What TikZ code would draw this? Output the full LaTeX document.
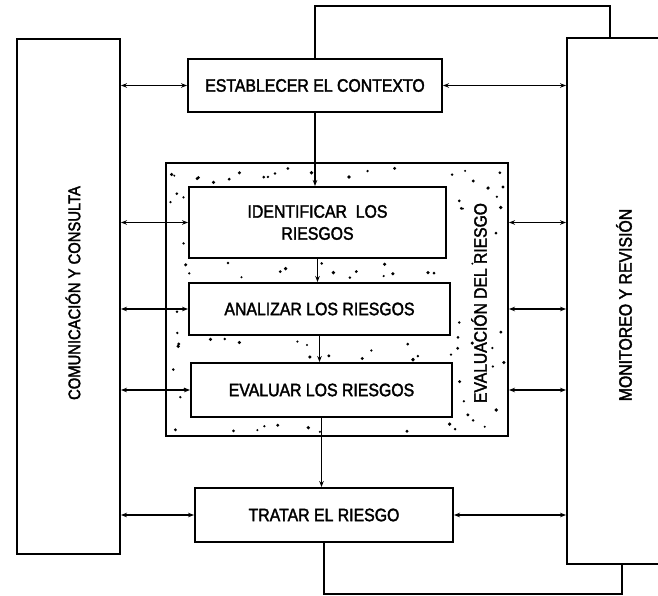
\documentclass[tikz,border=0pt]{standalone}
\usepackage{fontspec}
\setmainfont{Liberation Sans}
\newfontfamily\narrowfont[FakeStretch=0.88,FakeBold=2]{Liberation Sans}
\usetikzlibrary{arrows.meta,calc}
\newcommand\dotsrect[5]{%
  \foreach \i in {1,...,#5}{%
    \pgfmathsetmacro\dx{#1+rnd*(#3-#1)}%
    \pgfmathsetmacro\dy{#2+rnd*(#4-#2)}%
    \pgfmathsetmacro\dr{1.1+rnd*0.8}%
    \fill (\dx,\dy) circle (\dr pt);}}
\tikzset{
  stagebox/.style={draw, line width=1.9pt, fill=white, inner sep=0pt, align=center,
    font=\narrowfont\fontsize{18}{22}\selectfont},
  sidebox/.style={draw, line width=1.9pt, fill=white, inner sep=0pt},
  sidetext/.style={rotate=90, inner sep=0pt},
  dbl/.style={line width=1.3pt, {Stealth[length=6pt,width=4.5pt]}-{Stealth[length=6pt,width=4.5pt]}},
  onearr/.style={line width=1.3pt, -{Stealth[length=6pt,width=4.5pt]}},
  fb/.style={line width=2.8pt},
}
\begin{document}
\begin{tikzpicture}[x=1pt,y=-1pt]
\useasboundingbox (0,0) rectangle (658,596);
\clip (0,0) rectangle (658,596);
\fill[white] (0,0) rectangle (658,596);

% side boxes
\node[sidebox, minimum width=103pt, minimum height=515pt] (left) at (68.5,296.5) {};
\node[sidetext, font=\narrowfont\fontsize{16.8}{18}\selectfont] (lefttext) at (73,293) {COMUNICACIÓN Y CONSULTA};
\node[sidebox, minimum width=133pt, minimum height=526pt] (right) at (633.5,301) {};
\node[sidetext, font=\narrowfont\fontsize{18}{18}\selectfont] (righttext) at (624,305) {MONITOREO Y REVISIÓN};

% dotted evaluation box
\node[sidebox, minimum width=342pt, minimum height=273pt] (evalzone) at (337,299.5) {};
\pgfmathsetseed{4242}
\dotsrect{170}{168}{504}{184}{18}
\dotsrect{170}{263}{504}{280}{16}
\dotsrect{170}{339}{504}{360}{16}
\dotsrect{170}{420}{504}{432}{12}
\dotsrect{170}{186}{186}{418}{10}
\dotsrect{456}{186}{468}{418}{9}
\dotsrect{492}{186}{504}{418}{9}
\dotsrect{470}{168}{490}{196}{2}
\node[sidetext, font=\narrowfont\fontsize{17.8}{18}\selectfont] (evaltext) at (479,303) {EVALUACIÓN DEL RIESGO};

% stage boxes
\node[stagebox, minimum width=254pt, minimum height=53pt] (est) at (315,85.5) {ESTABLECER EL CONTEXTO};
\node[stagebox, minimum width=257pt, minimum height=71pt] (ident) at (317.5,222.5) {IDENTIFICAR\ \ LOS\\RIESGOS};
\node[stagebox, minimum width=261pt, minimum height=52pt] (anal) at (319.5,309) {ANALIZAR LOS RIESGOS};
\node[stagebox, minimum width=261pt, minimum height=54pt] (eval) at (321.5,390) {EVALUAR LOS RIESGOS};
\node[stagebox, minimum width=258pt, minimum height=54pt] (trat) at (324,515) {TRATAR EL RIESGO};

% left connectors
\draw[dbl] (left.east |- est.west) -- (est.west);
\draw[dbl] (left.east |- ident.west) -- (ident.west);
\draw[dbl] (left.east |- anal.west) -- (anal.west);
\draw[dbl] (left.east |- eval.west) -- (eval.west);
\draw[dbl] (left.east |- trat.west) -- (trat.west);

% right connectors
\draw[dbl] (est.east) -- (right.west |- est.east);
\draw[dbl] (evalzone.east |- ident.east) -- (right.west |- ident.east);
\draw[dbl] (evalzone.east |- anal.east) -- (right.west |- anal.east);
\draw[dbl] (evalzone.east |- eval.east) -- (right.west |- eval.east);
\draw[dbl] (trat.east) -- (right.west |- trat.east);

% vertical flow
\draw[onearr] (est.south) -- (est.south |- ident.north);
\draw[onearr] (ident.south) -- (ident.south |- anal.north);
\draw[onearr] (anal.south) -- (anal.south |- eval.north);
\draw[onearr] (eval.south) -- (eval.south |- trat.north);

% feedback loops
\coordinate (fbtop) at ([xshift=44pt]right.north west);
\coordinate (fbbot) at ([xshift=56pt]right.south west);
\draw[fb] (fbtop) -- ++(0,-31) -| (est.north);
\draw[fb] (trat.south) -- ++(0,51) -| (fbbot);
\end{tikzpicture}
\end{document}
